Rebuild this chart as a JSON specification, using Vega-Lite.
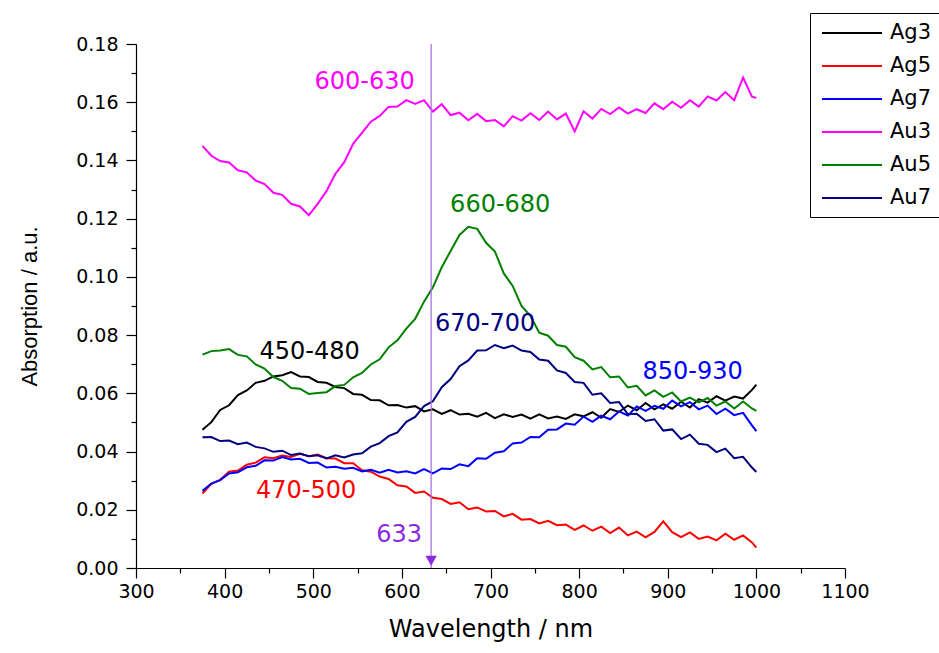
{
  "$schema": "https://vega.github.io/schema/vega-lite/v6.json",
  "width": 709,
  "height": 524,
  "autosize": {"type": "none"},
  "padding": {"left": 136, "top": 44, "right": 94, "bottom": 85},
  "background": "white",
  "config": {
    "view": {"stroke": null},
    "font": "DejaVu Sans",
    "axis": {"domainColor": "black", "tickColor": "black", "labelColor": "black", "titleColor": "black", "grid": false, "labelFont": "DejaVu Sans", "titleFont": "DejaVu Sans", "titleFontWeight": "normal", "domainWidth": 1.2, "tickWidth": 1.2}
  },
  "datasets": {
    "spectra": [
      {"x":375,"Ag3":0.0475,"Ag5":0.0256,"Ag7":0.0265,"Au3":0.1450,"Au5":0.0733,"Au7":0.0449},
      {"x":385,"Ag3":0.0501,"Ag5":0.0289,"Ag7":0.0290,"Au3":0.1416,"Au5":0.0745,"Au7":0.0450},
      {"x":395,"Ag3":0.0543,"Ag5":0.0303,"Ag7":0.0302,"Au3":0.1398,"Au5":0.0747,"Au7":0.0436},
      {"x":405,"Ag3":0.0559,"Ag5":0.0331,"Ag7":0.0325,"Au3":0.1393,"Au5":0.0752,"Au7":0.0438},
      {"x":415,"Ag3":0.0594,"Ag5":0.0335,"Ag7":0.0329,"Au3":0.1366,"Au5":0.0732,"Au7":0.0425},
      {"x":425,"Ag3":0.0610,"Ag5":0.0355,"Ag7":0.0346,"Au3":0.1359,"Au5":0.0727,"Au7":0.0431},
      {"x":435,"Ag3":0.0636,"Ag5":0.0362,"Ag7":0.0351,"Au3":0.1331,"Au5":0.0699,"Au7":0.0416},
      {"x":445,"Ag3":0.0643,"Ag5":0.0380,"Ag7":0.0370,"Au3":0.1319,"Au5":0.0685,"Au7":0.0411},
      {"x":455,"Ag3":0.0658,"Ag5":0.0377,"Ag7":0.0369,"Au3":0.1289,"Au5":0.0656,"Au7":0.0399},
      {"x":465,"Ag3":0.0662,"Ag5":0.0386,"Ag7":0.0381,"Au3":0.1282,"Au5":0.0643,"Au7":0.0403},
      {"x":475,"Ag3":0.0673,"Ag5":0.0381,"Ag7":0.0373,"Au3":0.1251,"Au5":0.0618,"Au7":0.0388},
      {"x":485,"Ag3":0.0658,"Ag5":0.0392,"Ag7":0.0375,"Au3":0.1242,"Au5":0.0616,"Au7":0.0393},
      {"x":495,"Ag3":0.0656,"Ag5":0.0384,"Ag7":0.0361,"Au3":0.1212,"Au5":0.0598,"Au7":0.0384},
      {"x":505,"Ag3":0.0639,"Ag5":0.0390,"Ag7":0.0362,"Au3":0.1251,"Au5":0.0601,"Au7":0.0387},
      {"x":515,"Ag3":0.0636,"Ag5":0.0377,"Ag7":0.0345,"Au3":0.1295,"Au5":0.0604,"Au7":0.0376},
      {"x":525,"Ag3":0.0622,"Ag5":0.0376,"Ag7":0.0348,"Au3":0.1354,"Au5":0.0625,"Au7":0.0387},
      {"x":535,"Ag3":0.0618,"Ag5":0.0360,"Ag7":0.0341,"Au3":0.1394,"Au5":0.0629,"Au7":0.0380},
      {"x":545,"Ag3":0.0598,"Ag5":0.0360,"Ag7":0.0344,"Au3":0.1457,"Au5":0.0655,"Au7":0.0390},
      {"x":555,"Ag3":0.0595,"Ag5":0.0336,"Ag7":0.0332,"Au3":0.1495,"Au5":0.0670,"Au7":0.0394},
      {"x":565,"Ag3":0.0577,"Ag5":0.0331,"Ag7":0.0337,"Au3":0.1533,"Au5":0.0699,"Au7":0.0417},
      {"x":575,"Ag3":0.0576,"Ag5":0.0314,"Ag7":0.0327,"Au3":0.1553,"Au5":0.0717,"Au7":0.0429},
      {"x":585,"Ag3":0.0559,"Ag5":0.0306,"Ag7":0.0337,"Au3":0.1584,"Au5":0.0758,"Au7":0.0453},
      {"x":595,"Ag3":0.0560,"Ag5":0.0284,"Ag7":0.0328,"Au3":0.1585,"Au5":0.0782,"Au7":0.0466},
      {"x":605,"Ag3":0.0551,"Ag5":0.0280,"Ag7":0.0332,"Au3":0.1607,"Au5":0.0822,"Au7":0.0502},
      {"x":615,"Ag3":0.0556,"Ag5":0.0258,"Ag7":0.0325,"Au3":0.1594,"Au5":0.0856,"Au7":0.0519},
      {"x":625,"Ag3":0.0538,"Ag5":0.0263,"Ag7":0.0340,"Au3":0.1607,"Au5":0.0915,"Au7":0.0556},
      {"x":635,"Ag3":0.0545,"Ag5":0.0241,"Ag7":0.0325,"Au3":0.1568,"Au5":0.0964,"Au7":0.0573},
      {"x":645,"Ag3":0.0529,"Ag5":0.0237,"Ag7":0.0342,"Au3":0.1593,"Au5":0.1033,"Au7":0.0621},
      {"x":655,"Ag3":0.0542,"Ag5":0.0220,"Ag7":0.0340,"Au3":0.1556,"Au5":0.1089,"Au7":0.0649},
      {"x":665,"Ag3":0.0527,"Ag5":0.0226,"Ag7":0.0356,"Au3":0.1564,"Au5":0.1144,"Au7":0.0693},
      {"x":675,"Ag3":0.0530,"Ag5":0.0202,"Ag7":0.0350,"Au3":0.1538,"Au5":0.1172,"Au7":0.0713},
      {"x":685,"Ag3":0.0520,"Ag5":0.0208,"Ag7":0.0377,"Au3":0.1560,"Au5":0.1165,"Au7":0.0747},
      {"x":695,"Ag3":0.0533,"Ag5":0.0194,"Ag7":0.0375,"Au3":0.1535,"Au5":0.1117,"Au7":0.0748},
      {"x":705,"Ag3":0.0515,"Ag5":0.0196,"Ag7":0.0396,"Au3":0.1539,"Au5":0.1087,"Au7":0.0766},
      {"x":715,"Ag3":0.0528,"Ag5":0.0177,"Ag7":0.0401,"Au3":0.1517,"Au5":0.1012,"Au7":0.0755},
      {"x":725,"Ag3":0.0519,"Ag5":0.0186,"Ag7":0.0428,"Au3":0.1552,"Au5":0.0969,"Au7":0.0764},
      {"x":735,"Ag3":0.0527,"Ag5":0.0166,"Ag7":0.0431,"Au3":0.1537,"Au5":0.0900,"Au7":0.0747},
      {"x":745,"Ag3":0.0513,"Ag5":0.0168,"Ag7":0.0450,"Au3":0.1562,"Au5":0.0866,"Au7":0.0742},
      {"x":755,"Ag3":0.0528,"Ag5":0.0153,"Ag7":0.0449,"Au3":0.1539,"Au5":0.0808,"Au7":0.0716},
      {"x":765,"Ag3":0.0514,"Ag5":0.0162,"Ag7":0.0475,"Au3":0.1568,"Au5":0.0798,"Au7":0.0712},
      {"x":775,"Ag3":0.0520,"Ag5":0.0147,"Ag7":0.0476,"Au3":0.1541,"Au5":0.0766,"Au7":0.0679},
      {"x":785,"Ag3":0.0512,"Ag5":0.0149,"Ag7":0.0496,"Au3":0.1561,"Au5":0.0760,"Au7":0.0670},
      {"x":795,"Ag3":0.0528,"Ag5":0.0131,"Ag7":0.0492,"Au3":0.1500,"Au5":0.0724,"Au7":0.0639},
      {"x":805,"Ag3":0.0521,"Ag5":0.0146,"Ag7":0.0520,"Au3":0.1569,"Au5":0.0712,"Au7":0.0636},
      {"x":815,"Ag3":0.0535,"Ag5":0.0128,"Ag7":0.0502,"Au3":0.1544,"Au5":0.0682,"Au7":0.0595},
      {"x":825,"Ag3":0.0516,"Ag5":0.0142,"Ag7":0.0523,"Au3":0.1577,"Au5":0.0690,"Au7":0.0600},
      {"x":835,"Ag3":0.0546,"Ag5":0.0120,"Ag7":0.0511,"Au3":0.1559,"Au5":0.0655,"Au7":0.0567},
      {"x":845,"Ag3":0.0536,"Ag5":0.0139,"Ag7":0.0538,"Au3":0.1582,"Au5":0.0658,"Au7":0.0570},
      {"x":855,"Ag3":0.0558,"Ag5":0.0112,"Ag7":0.0524,"Au3":0.1561,"Au5":0.0620,"Au7":0.0528},
      {"x":865,"Ag3":0.0542,"Ag5":0.0125,"Ag7":0.0555,"Au3":0.1576,"Au5":0.0626,"Au7":0.0530},
      {"x":875,"Ag3":0.0567,"Ag5":0.0105,"Ag7":0.0540,"Au3":0.1563,"Au5":0.0593,"Au7":0.0505},
      {"x":885,"Ag3":0.0545,"Ag5":0.0124,"Ag7":0.0557,"Au3":0.1596,"Au5":0.0610,"Au7":0.0511},
      {"x":895,"Ag3":0.0562,"Ag5":0.0160,"Ag7":0.0547,"Au3":0.1576,"Au5":0.0588,"Au7":0.0472},
      {"x":905,"Ag3":0.0547,"Ag5":0.0123,"Ag7":0.0575,"Au3":0.1602,"Au5":0.0603,"Au7":0.0476},
      {"x":915,"Ag3":0.0571,"Ag5":0.0106,"Ag7":0.0555,"Au3":0.1581,"Au5":0.0572,"Au7":0.0443},
      {"x":925,"Ag3":0.0551,"Ag5":0.0122,"Ag7":0.0570,"Au3":0.1607,"Au5":0.0585,"Au7":0.0458},
      {"x":935,"Ag3":0.0580,"Ag5":0.0100,"Ag7":0.0545,"Au3":0.1585,"Au5":0.0569,"Au7":0.0427},
      {"x":945,"Ag3":0.0568,"Ag5":0.0108,"Ag7":0.0558,"Au3":0.1620,"Au5":0.0584,"Au7":0.0423},
      {"x":955,"Ag3":0.0590,"Ag5":0.0095,"Ag7":0.0529,"Au3":0.1606,"Au5":0.0558,"Au7":0.0398},
      {"x":965,"Ag3":0.0575,"Ag5":0.0118,"Ag7":0.0547,"Au3":0.1635,"Au5":0.0572,"Au7":0.0410},
      {"x":975,"Ag3":0.0589,"Ag5":0.0097,"Ag7":0.0525,"Au3":0.1607,"Au5":0.0548,"Au7":0.0377},
      {"x":985,"Ag3":0.0582,"Ag5":0.0112,"Ag7":0.0533,"Au3":0.1685,"Au5":0.0572,"Au7":0.0382},
      {"x":995,"Ag3":0.0612,"Ag5":0.0088,"Ag7":0.0490,"Au3":0.1619,"Au5":0.0548,"Au7":0.0345},
      {"x":1000,"Ag3":0.0630,"Ag5":0.0070,"Ag7":0.0470,"Au3":0.1615,"Au5":0.0540,"Au7":0.0330}
    ],
    "labels": [
      {"label":"600-630","series":"Au3","x":558,"y":0.1670},
      {"label":"660-680","series":"Au5","x":711,"y":0.1246},
      {"label":"450-480","series":"Ag3","x":496,"y":0.0741},
      {"label":"670-700","series":"Au7","x":694,"y":0.0837},
      {"label":"850-930","series":"Ag7","x":928,"y":0.0675},
      {"label":"470-500","series":"Ag5","x":492,"y":0.0265}
    ],
    "marker": [
      {"x":633,"label":"633","lx":597,"ly":0.0113,"ay":0.0025}
    ]
  },
  "resolve": {"axis": {"x": "independent", "y": "independent"}},
  "layer": [
    {
      "data": {"name": "spectra"},
      "transform": [{"fold": ["Ag3","Ag5","Ag7","Au3","Au5","Au7"], "as": ["series","value"]}],
      "mark": {"type": "line", "strokeWidth": 2, "interpolate": "linear"},
      "encoding": {
        "x": {"field": "x", "type": "quantitative",
          "scale": {"domain": [300, 1100], "nice": false, "zero": false},
          "axis": {"orient": "bottom", "title": "Wavelength / nm", "values": [300,400,500,600,700,800,900,1000,1100], "format": "d", "tickSize": 10, "labelFontSize": 19, "labelPadding": 4, "titleFontSize": 24, "titlePadding": 16, "labelFlush": false}},
        "y": {"field": "value", "type": "quantitative",
          "scale": {"domain": [0, 0.18], "nice": false, "zero": false},
          "axis": {"orient": "left", "title": "Absorption / a.u.", "titleFont": "Liberation Sans", "values": [0,0.02,0.04,0.06,0.08,0.1,0.12,0.14,0.16,0.18], "format": ".2f", "tickSize": 10, "labelFontSize": 19, "labelPadding": 8, "titleFontSize": 22, "titlePadding": 34, "labelFlush": false}},
        "color": {"field": "series", "type": "nominal",
          "scale": {"domain": ["Ag3","Ag5","Ag7","Au3","Au5","Au7"], "range": ["#000000","#ff0000","#0000ff","#ff00ff","#008000","#000080"]},
          "legend": {"title": null, "orient": "none", "legendX": 674, "legendY": -31, "symbolType": "M-3,0H3", "symbolSize": 400, "symbolStrokeWidth": 2, "symbolOffset": 22, "labelFontSize": 21, "labelFont": "DejaVu Sans", "labelColor": "black", "labelOffset": 27, "rowPadding": 12, "padding": 9, "strokeColor": "black", "fillColor": "white"}}
      }
    },
    {
      "data": {"name": "marker"},
      "mark": {"type": "rule", "color": "#a974dd", "strokeWidth": 1.3},
      "encoding": {
        "x": {"field": "x", "type": "quantitative",
          "axis": {"orient": "bottom", "title": null, "values": [350,450,550,650,750,850,950,1050], "tickSize": 5, "labels": false, "domain": false}}
      }
    },
    {
      "data": {"name": "marker"},
      "mark": {"type": "point", "shape": "triangle-down", "filled": true, "color": "#8a2be2", "size": 130, "opacity": 1},
      "encoding": {
        "x": {"field": "x", "type": "quantitative", "axis": null},
        "y": {"field": "ay", "type": "quantitative",
          "axis": {"orient": "left", "title": null, "values": [0.01,0.03,0.05,0.07,0.09,0.11,0.13,0.15,0.17], "tickSize": 5, "labels": false, "domain": false}}
      }
    },
    {
      "data": {"name": "marker"},
      "mark": {"type": "text", "fontSize": 24, "font": "DejaVu Sans", "color": "#8a2be2", "align": "center", "baseline": "middle"},
      "encoding": {
        "x": {"field": "lx", "type": "quantitative", "axis": null},
        "y": {"field": "ly", "type": "quantitative", "axis": null},
        "text": {"field": "label"}
      }
    },
    {
      "data": {"name": "labels"},
      "mark": {"type": "text", "fontSize": 24, "font": "DejaVu Sans", "align": "center", "baseline": "middle"},
      "encoding": {
        "x": {"field": "x", "type": "quantitative", "axis": null},
        "y": {"field": "y", "type": "quantitative", "axis": null},
        "text": {"field": "label"},
        "color": {"field": "series", "type": "nominal", "legend": null}
      }
    }
  ]
}
